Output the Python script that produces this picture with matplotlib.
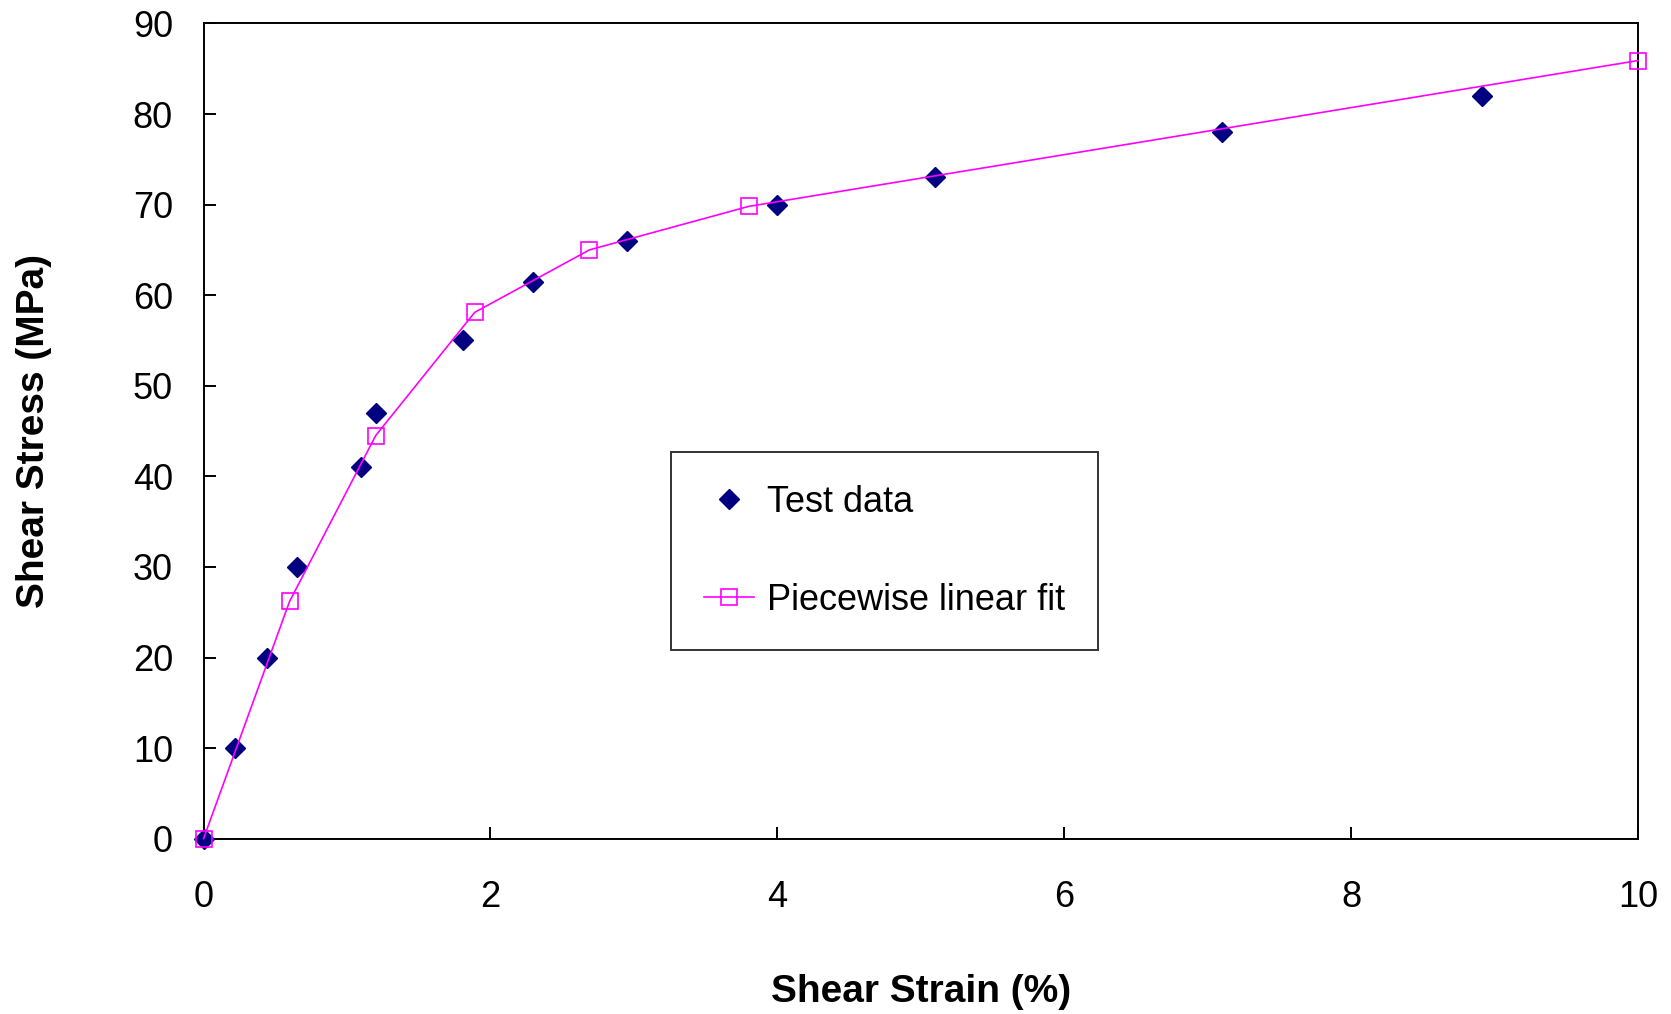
import matplotlib

matplotlib.use("Agg")
import matplotlib.pyplot as plt

# measured shear response and the fitted piecewise-linear curve
test_strain = [0.0, 0.22, 0.44, 0.65, 1.10, 1.20, 1.81, 2.30, 2.95, 4.00, 5.10, 7.10, 8.91]
test_stress = [0.0, 10.0, 20.0, 30.0, 41.0, 47.0, 55.0, 61.5, 66.0, 70.0, 73.0, 78.0, 82.0]

fit_strain = [0.0, 0.60, 1.20, 1.89, 2.69, 3.80, 10.0]
fit_stress = [0.0, 26.2, 44.5, 58.1, 65.0, 69.8, 85.9]

x_ticks = [0, 2, 4, 6, 8, 10]
y_ticks = [0, 10, 20, 30, 40, 50, 60, 70, 80, 90]

plt.rcParams["font.family"] = ["Liberation Sans", "DejaVu Sans"]

fig = plt.figure(figsize=(16.71, 10.14), dpi=100)
ax = fig.add_axes([0.1218, 0.1729, 0.8585, 0.804])

ax.plot(test_strain, test_stress, linestyle="none", marker="D", markersize=10,
        color="#000080", label="Test data", zorder=3, clip_on=False)
ax.plot(fit_strain, fit_stress, color="#FF00FF", lw=1.2, marker="s", markersize=11.5,
        markerfacecolor="none", markeredgecolor="#FF00FF", markeredgewidth=1.2,
        label="Piecewise linear fit", zorder=4, clip_on=False)

ax.set_xlim(0, 10)
ax.set_ylim(0, 90)
ax.set_xticks(x_ticks)
ax.set_yticks(y_ticks)
ax.tick_params(direction="in", length=8.5, width=1.4, labelsize=26,
               top=False, right=False)
ax.tick_params(axis="x", pad=30)
ax.tick_params(axis="y", pad=22)
for spine in ax.spines.values():
    spine.set_linewidth(1.4)

ax.set_xlabel("Shear Strain (%)", fontsize=28, fontweight="bold", labelpad=42)
ax.set_ylabel("Shear Stress (MPa)", fontsize=28, fontweight="bold", labelpad=58)

leg = ax.legend(loc="upper left", bbox_to_anchor=(0.326, 0.474), borderaxespad=0,
                fontsize=26, frameon=True, fancybox=False, edgecolor="black",
                labelspacing=1.75, handlelength=1.4, handletextpad=0.35,
                borderpad=0.9)
leg.get_frame().set_linewidth(1.4)

fig.savefig("out.png", dpi=100)
